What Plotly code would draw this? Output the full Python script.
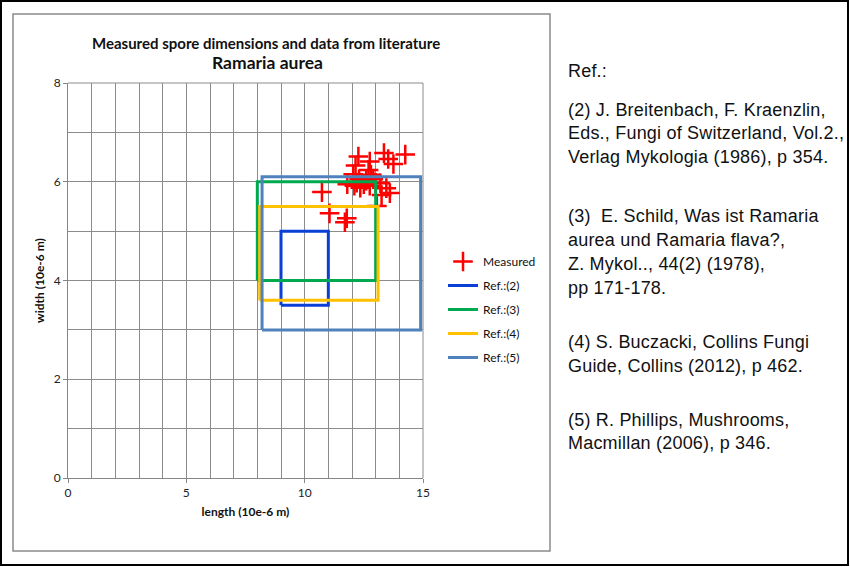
import plotly.graph_objects as go

# ---- data ----
meas_length = [12.27, 13.35, 13.53, 13.75, 14.25, 12.15, 12.75, 12.70, 12.80, 12.05,
               12.30, 12.60, 12.90, 11.80, 12.10, 12.35, 12.50, 12.75, 13.00, 12.20,
               13.20, 13.45, 13.60, 13.25, 13.05, 10.73, 11.05, 11.78, 11.70]
meas_width = [6.51, 6.58, 6.46, 6.36, 6.55, 6.33, 6.41, 6.24, 6.14, 6.15,
              6.05, 6.02, 6.05, 5.95, 5.92, 5.88, 5.95, 5.92, 5.98, 5.98,
              5.97, 5.87, 5.77, 5.73, 5.51, 5.79, 5.36, 5.26, 5.18]

ref_names = ["Ref.:(2)", "Ref.:(3)", "Ref.:(4)", "Ref.:(5)"]
ref_len_min = [9.0, 8.0, 8.1, 8.2]
ref_len_max = [11.0, 13.0, 13.1, 14.9]
ref_wid_min = [3.5, 4.0, 3.6, 3.0]
ref_wid_max = [5.0, 6.0, 5.5, 6.1]
ref_colors = ["#0a3fd6", "#00a84f", "#ffc000", "#4f81bd"]

ref_text_lines = [
    "Ref.:",
    "(2) J. Breitenbach, F. Kraenzlin,",
    "Eds., Fungi of Switzerland, Vol.2.,",
    "Verlag Mykologia (1986), p 354.",
    "(3)  E. Schild, Was ist Ramaria",
    "aurea und Ramaria flava?,",
    "Z. Mykol.., 44(2) (1978),",
    "pp 171-178.",
    "(4) S. Buczacki, Collins Fungi",
    "Guide, Collins (2012), p 462.",
    "(5) R. Phillips, Mushrooms,",
    "Macmillan (2006), p 346.",
]
ref_text_y = [71, 110, 133, 157, 216, 240, 264, 288, 342, 366, 420, 443]

W, H = 850, 567
L, R, T, B = 68, 423, 83, 478


def px(xp):
    return (xp - L) / (R - L)


def py(yp):
    return (B - yp) / (B - T)


fig = go.Figure()
fig.add_trace(go.Scatter(
    x=meas_length, y=meas_width, mode="markers", name="Measured",
    marker=dict(symbol="cross-thin", size=14, color="red",
                line=dict(color="red", width=2.5)),
    legendgroup="m"))

for i, n in enumerate(ref_names):
    xs = [ref_len_min[i], ref_len_max[i], ref_len_max[i], ref_len_min[i], ref_len_min[i]]
    ys = [ref_wid_min[i], ref_wid_min[i], ref_wid_max[i], ref_wid_max[i], ref_wid_min[i]]
    fig.add_trace(go.Scatter(x=xs, y=ys, mode="lines", name=n,
                             line=dict(color=ref_colors[i], width=3),
                             legendgroup="g%d" % i))

axis_common = dict(showline=True, linecolor="#868686", linewidth=1,
                   gridcolor="#8c8c8c", gridwidth=1, ticks="outside",
                   ticklen=4, tickcolor="#868686", zeroline=False,
                   tickfont=dict(family="Lato", size=12, color="#222"))

fig.update_xaxes(range=[0, 15], dtick=5, tick0=0,
                 minor=dict(dtick=1, showgrid=True, gridcolor="#8c8c8c", gridwidth=1, ticks=""),
                 title=dict(text="<b>length (10e-6 m)</b>", standoff=8,
                            font=dict(family="Lato", size=12, color="#111")),
                 mirror=False, **axis_common)
fig.update_yaxes(range=[0, 8], dtick=2, tick0=0,
                 minor=dict(dtick=1, showgrid=True, gridcolor="#8c8c8c", gridwidth=1, ticks=""),
                 title=dict(text="<b>width (10e-6 m)</b>", standoff=6,
                            font=dict(family="Lato", size=12, color="#111")),
                 **axis_common)

shapes = [
    # chart area border
    dict(type="rect", xref="paper", yref="paper", x0=px(13), x1=px(550), y0=py(14), y1=py(551),
         line=dict(color="#8a8a8a", width=1.5), layer="below"),
    # outer frame
    dict(type="rect", xref="paper", yref="paper", x0=px(1), x1=px(848), y0=py(1), y1=py(565),
         line=dict(color="black", width=2), layer="below"),
    # plot top / right edges
    dict(type="line", xref="paper", yref="paper", x0=0, x1=1, y0=1, y1=1,
         line=dict(color="#8c8c8c", width=1), layer="below"),
    dict(type="line", xref="paper", yref="paper", x0=1, x1=1, y0=0, y1=1,
         line=dict(color="#8c8c8c", width=1), layer="below"),
]

annotations = [
    dict(text="<b>Measured spore dimensions and data from literature</b>", xref="paper", yref="paper",
         x=px(266), y=py(43), showarrow=False, xanchor="center", yanchor="middle",
         font=dict(family="Lato", size=15, color="#111")),
    dict(text="<b>Ramaria aurea</b>", xref="paper", yref="paper",
         x=px(267), y=py(63), showarrow=False, xanchor="center", yanchor="middle",
         font=dict(family="Lato", size=17.5, color="#111")),
]
for t, yy in zip(ref_text_lines, ref_text_y):
    annotations.append(dict(text="<span style='letter-spacing:0.2px'>%s</span>" % t,
                            xref="paper", yref="paper", x=px(566), y=py(yy),
                            showarrow=False, xanchor="left", yanchor="middle",
                            font=dict(family="Liberation Sans", size=18, color="#111")))

fig.update_layout(
    width=W, height=H, autosize=False,
    margin=dict(l=L, r=W - R, t=T, b=H - B, pad=0),
    paper_bgcolor="white", plot_bgcolor="white",
    showlegend=True,
    legend=dict(x=px(443), y=py(247), xanchor="left", yanchor="top",
                font=dict(family="Lato", size=12, color="#111"),
                tracegroupgap=5, bgcolor="rgba(0,0,0,0)", itemwidth=30),
    shapes=shapes, annotations=annotations,
)

fig.write_html("out.html")
